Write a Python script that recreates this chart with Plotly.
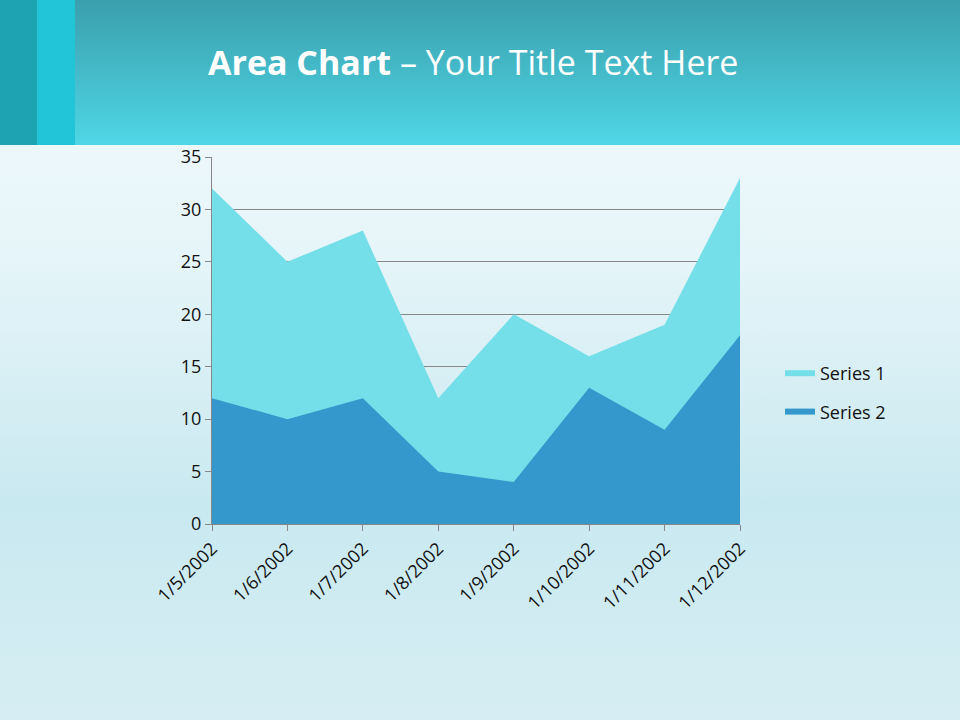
import base64

import plotly.graph_objects as go

dates = ["1/5/2002", "1/6/2002", "1/7/2002", "1/8/2002",
         "1/9/2002", "1/10/2002", "1/11/2002", "1/12/2002"]
series_1 = [32, 25, 28, 12, 20, 16, 19, 33]
series_2 = [12, 10, 12, 5, 4, 13, 9, 18]

# slide background: teal header band and pale water below
svg = """<svg xmlns='http://www.w3.org/2000/svg' width='960' height='720'>
<defs>
<linearGradient id='h' x1='0' y1='0' x2='0' y2='1'>
<stop offset='0' stop-color='#3a9fac'/><stop offset='1' stop-color='#4fd6e6'/></linearGradient>
<linearGradient id='w' x1='0' y1='0' x2='0' y2='1'>
<stop offset='0' stop-color='#f4fbfd'/><stop offset='0.35' stop-color='#e6f5f9'/>
<stop offset='0.7' stop-color='#c9e9f0'/><stop offset='1' stop-color='#d6eef3'/></linearGradient>
</defs>
<rect width='960' height='720' fill='url(#w)'/>
<rect width='960' height='145' fill='url(#h)'/>
<rect width='37' height='145' fill='#1ea3b3'/>
<rect x='37' width='38' height='145' fill='#22c4d8'/>
</svg>"""
bg = "data:image/svg+xml;base64," + base64.b64encode(svg.encode()).decode()

fig = go.Figure()
fig.add_trace(go.Scatter(x=dates, y=series_1, name="Series 1", mode="none",
                         fill="tozeroy", fillcolor="#74dfe9", legendgroup="a"))
fig.add_trace(go.Scatter(x=dates, y=series_2, name="Series 2", mode="none",
                         fill="tozeroy", fillcolor="#3498cc", legendgroup="b"))

fig.update_layout(
    width=960, height=720,
    margin=dict(l=0, r=0, t=0, b=0, autoexpand=False),
    paper_bgcolor="rgba(0,0,0,0)", plot_bgcolor="rgba(0,0,0,0)",
    font=dict(family="Open Sans", size=18, color="#111111"),
    images=[dict(source=bg, xref="paper", yref="paper", x=0, y=1, sizex=1, sizey=1,
                 xanchor="left", yanchor="top", sizing="stretch", layer="below")],
    xaxis=dict(domain=[212 / 960, 740 / 960], range=[0, 7], tickangle=-45,
               automargin=False, type="category",
               showgrid=False, showline=True, linecolor="#888888", ticks="outside",
               ticklen=6, tickcolor="#888888", tickfont=dict(size=18)),
    yaxis=dict(domain=[(720 - 524) / 720, (720 - 157) / 720], range=[0, 35], dtick=5,
               automargin=False,
               showgrid=True, gridcolor="#888888", gridwidth=1, zeroline=False,
               showline=True, linecolor="#888888", ticks="outside", ticklen=6,
               tickcolor="#888888", tickfont=dict(size=18)),
    legend=dict(x=780 / 960, y=(720 - 355) / 720, xanchor="left", yanchor="top",
                bgcolor="rgba(0,0,0,0)", font=dict(size=18), tracegroupgap=12),
    annotations=[dict(text="<b>Area Chart</b> – Your Title Text Here", x=206 / 960,
                      y=(720 - 62) / 720, xref="paper", yref="paper", xanchor="left",
                      yanchor="middle", showarrow=False,
                      font=dict(size=34, color="white", family="Open Sans"))],
)

fig.write_html("out.html", config={"displayModeBar": False},
               post_script="document.body.style.margin='0';")
